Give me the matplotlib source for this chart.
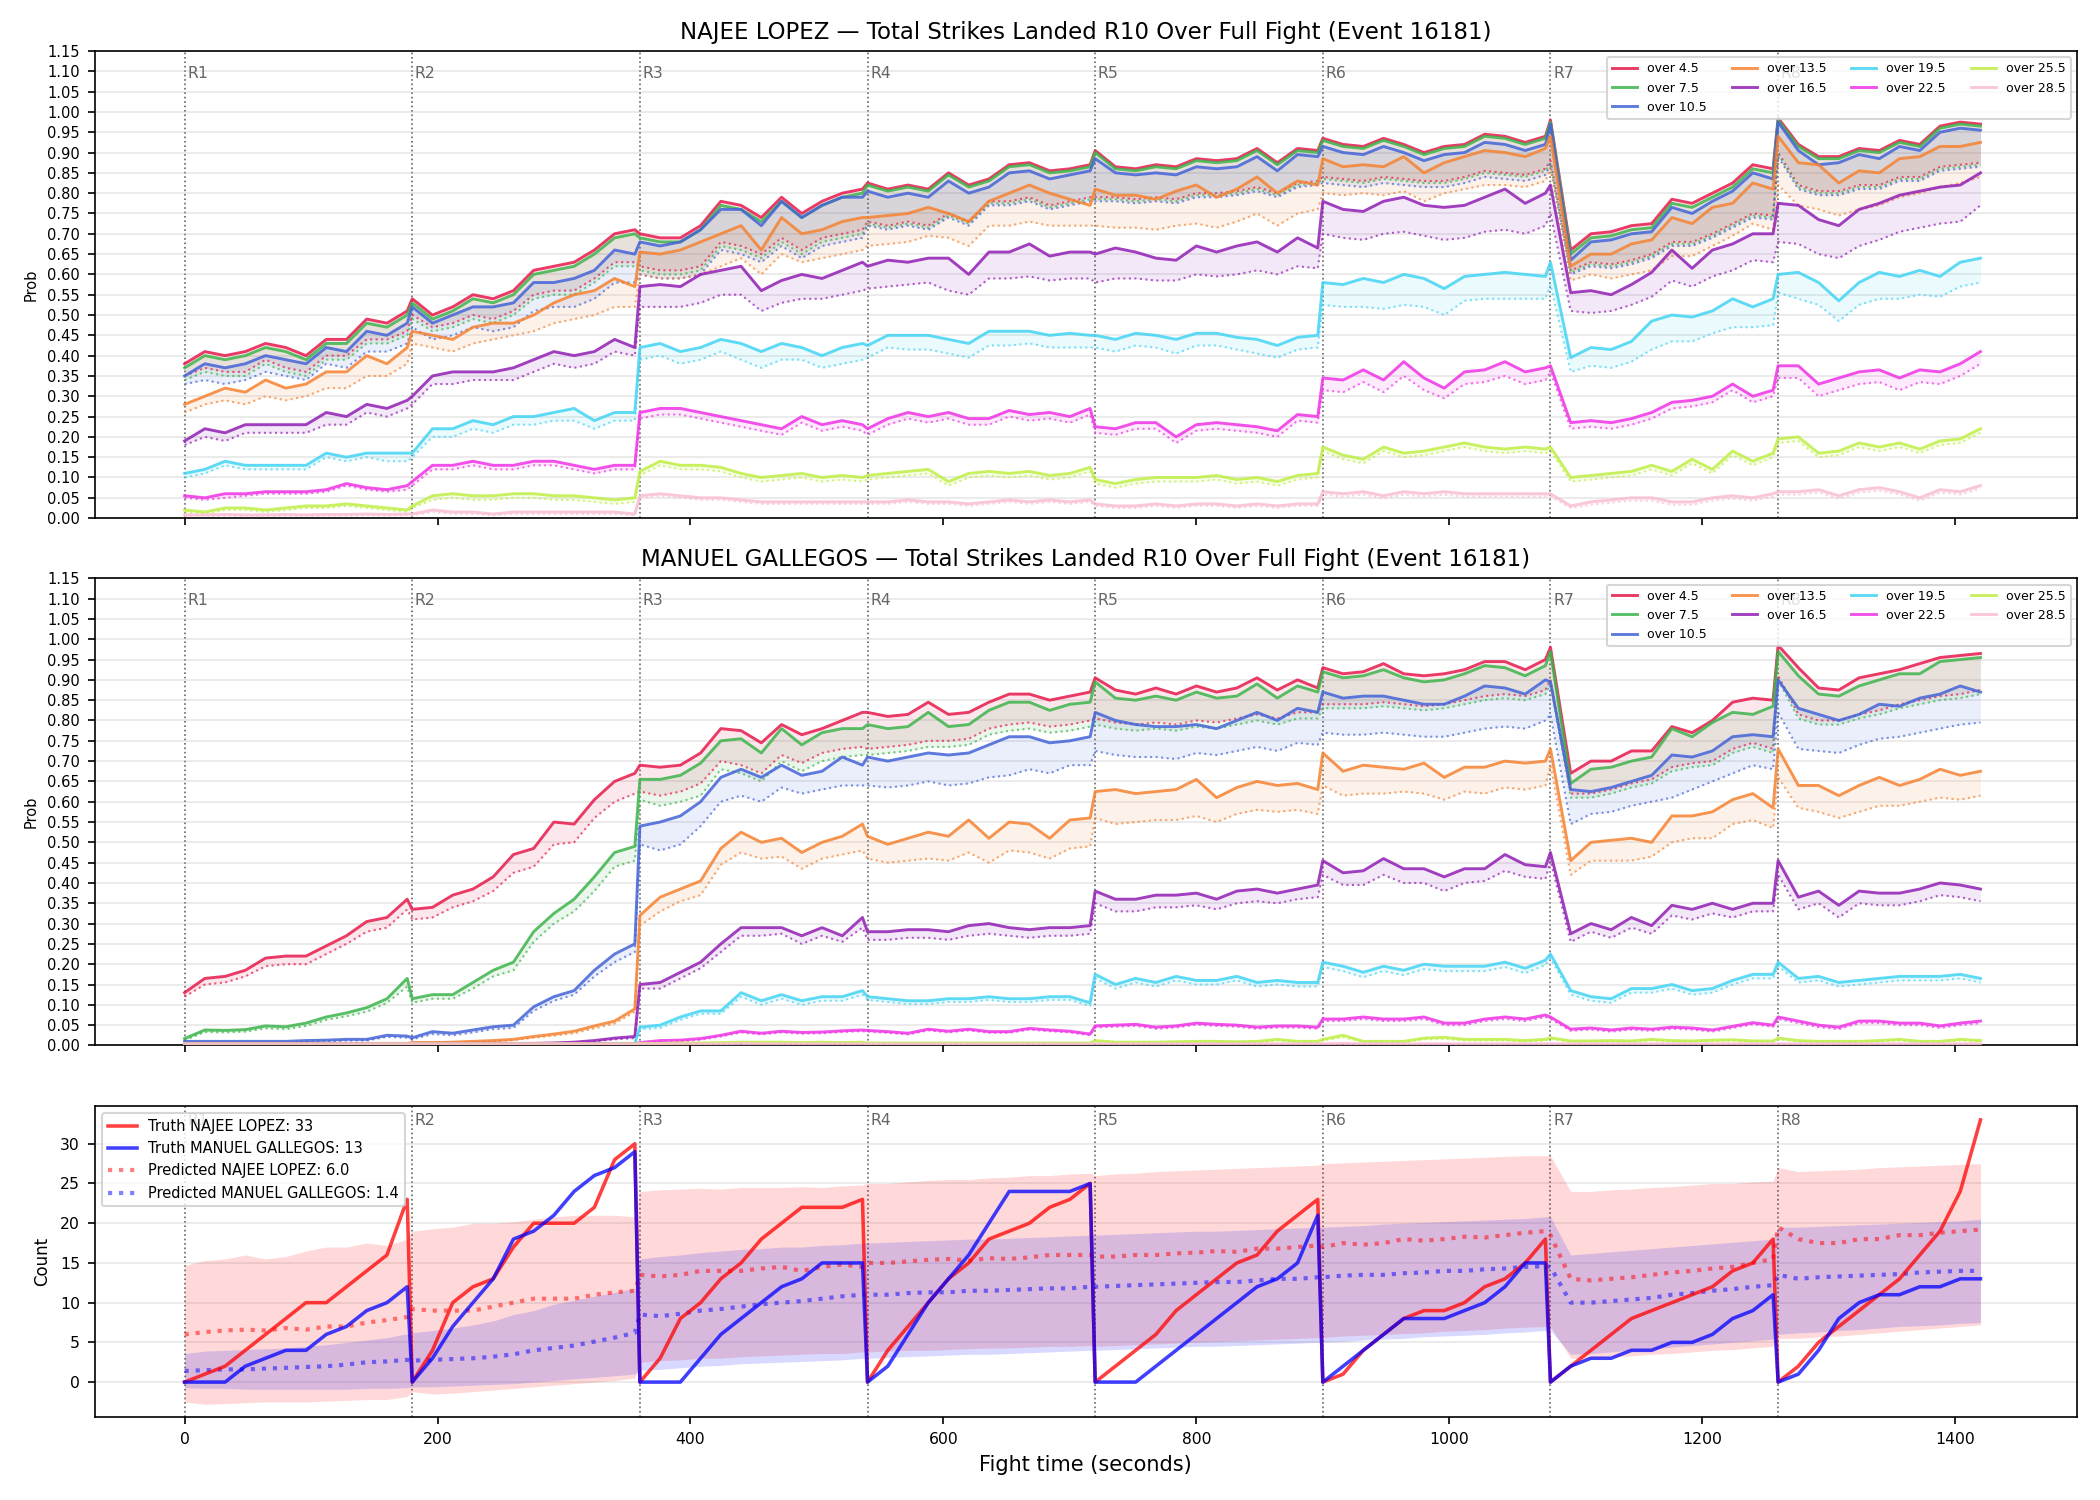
import numpy as np
import matplotlib
matplotlib.use("Agg")
import matplotlib.pyplot as plt
from matplotlib.transforms import blended_transform_factory

# ---------------- time grid (seconds) ----------------
ROUND_STARTS = [0, 180, 360, 540, 720, 900, 1080, 1260]
SAMPLE_OFFSETS = [0, 16, 32, 48, 64, 80, 96, 112, 128, 144, 160, 176]
LAST_ROUND_OFFSETS = [0, 16, 32, 48, 64, 80, 96, 112, 128, 144, 160]

THRESHOLD_LABELS = ["over 4.5", "over 7.5", "over 10.5", "over 13.5", "over 16.5",
                    "over 19.5", "over 22.5", "over 25.5", "over 28.5"]
LINE_COLORS = ["#e6194B", "#3cb44b", "#4363d8", "#f58231", "#911eb4",
               "#42d4f4", "#f032e6", "#bfef45", "#fabed4"]

FIGHTER_A = "NAJEE LOPEZ"
FIGHTER_B = "MANUEL GALLEGOS"

# ================= NAJEE LOPEZ probabilities (percent), one row per round =================
lopez_o45 = [
    [38, 41, 40, 41, 43, 42, 40, 44, 44, 49, 48, 51],
    [54, 50, 52, 55, 54, 56, 61, 62, 63, 66, 70, 71],
    [70, 69, 69, 72, 78, 77, 74, 79, 75, 78, 80, 81],
    [82.5, 81, 82, 81, 85, 82, 83.5, 87, 87.5, 85.5, 86, 87],
    [90.5, 86.5, 86, 87, 86.5, 88.5, 88, 88.5, 91, 87.5, 91, 90.5],
    [93.5, 92, 91.5, 93.5, 92, 90, 91.5, 92, 94.5, 94, 92.5, 94],
    [98, 66, 70, 70.5, 72, 72.5, 78.5, 77.5, 80, 82.5, 87, 86],
    [98.5, 92, 89, 89, 91, 90.5, 93, 92, 96.5, 97.5, 97],
]
lopez_o45_lo = [
    [35, 37, 36, 36, 39, 37, 36, 40, 40, 44, 44, 46],
    [50, 47, 48, 50, 49, 51, 55, 56, 56, 59, 63, 63],
    [62, 61, 61, 62, 68, 67, 65, 69, 66, 69, 70, 71],
    [73, 72, 73, 72, 75, 73, 78, 78, 79, 77, 78, 79],
    [79, 79, 78.5, 79, 78.5, 80, 80, 80.5, 81.5, 80, 82.5, 83],
    [84, 83.5, 83, 84, 83.5, 83, 83, 84, 85.5, 85, 84.5, 86],
    [88, 61, 63, 62.5, 63.5, 65, 68, 68, 70, 72.5, 75, 74.5],
    [90, 82, 80.5, 80.5, 82, 82, 84, 84, 86.5, 87, 87.5],
]
lopez_o75 = [
    [37, 40, 39, 40, 42, 41, 39, 43, 43, 48, 47, 50],
    [53, 49, 51, 54, 53, 55, 60, 61, 62, 65, 69, 70],
    [69, 68, 68, 71, 77, 76, 73, 78, 74, 77, 79, 80],
    [82, 80.5, 81.5, 80.5, 84.5, 81.5, 83, 86.5, 87, 85, 85.5, 86.5],
    [90, 86, 85.5, 86.5, 86, 88, 87.5, 88, 90.5, 87, 90.5, 90],
    [93, 91.5, 91, 93, 91.5, 89.5, 91, 91.5, 94, 93.5, 92, 93.5],
    [97.5, 65, 69, 69.5, 71, 71.5, 77.5, 76.5, 79, 81.5, 86, 85],
    [98, 91.5, 88.5, 88.5, 90.5, 90, 92.5, 91.5, 96, 97, 96.5],
]
lopez_o75_lo = [
    [34, 36, 35, 35, 38, 36, 35, 39, 39, 43, 43, 45],
    [49, 46, 47, 49, 48, 50, 54, 55, 55, 58, 62, 62],
    [61, 60, 60, 61, 67, 66, 64, 68, 65, 68, 69, 70],
    [72.5, 71.5, 72.5, 71.5, 74.5, 72.5, 77.5, 77.5, 78.5, 76.5, 77.5, 78.5],
    [78.5, 78.5, 78, 78.5, 78, 79.5, 79.5, 80, 81, 79.5, 82, 82.5],
    [83.5, 83, 82.5, 83.5, 83, 82.5, 82.5, 83.5, 85, 84.5, 84, 85.5],
    [87.5, 60.5, 62.5, 62, 63, 64.5, 67.5, 67.5, 69.5, 72, 74.5, 74],
    [89.5, 81.5, 80, 80, 81.5, 81.5, 83.5, 83.5, 86, 86.5, 87],
]
lopez_o105 = [
    [35, 38, 37, 38, 40, 39, 38, 42, 41, 46, 45, 48],
    [52, 48, 50, 52, 52, 53, 58, 58, 59, 61, 66, 65],
    [68, 67, 68, 71, 76, 76, 72, 78, 74, 77, 79, 79],
    [80.5, 79, 80, 79, 83, 80, 81.5, 85, 85.5, 83.5, 84.5, 85.5],
    [88.5, 85, 84.5, 85, 84.5, 86.5, 86, 86.5, 89, 85.5, 89.5, 89],
    [91.5, 90, 89.5, 91.5, 90, 88, 89.5, 90, 92.5, 92, 90.5, 92],
    [97, 63.5, 68, 68.5, 70, 70.5, 76.5, 75, 78, 80.5, 85, 83.5],
    [97.5, 90.5, 87, 87.5, 89.5, 88.5, 91.5, 90.5, 95, 96, 95.5],
]
lopez_o105_lo = [
    [33, 34, 33, 34, 36, 35, 34, 38, 37, 41, 41, 43],
    [47, 44, 45, 47, 46, 47, 51, 52, 52, 54, 58, 58],
    [60, 59, 59, 60, 66, 65, 63, 67, 64, 67, 68, 69],
    [72, 71, 72, 71, 74, 72, 77, 77, 78, 76, 77, 78],
    [78, 78, 77.5, 78, 77.5, 79, 79, 79.5, 80.5, 79, 81.5, 82],
    [82.5, 82, 81.5, 82.5, 82, 81.5, 81.5, 82.5, 84, 83.5, 83, 84.5],
    [87, 60, 62, 61.5, 62.5, 64, 67, 67, 69, 71.5, 74, 73.5],
    [89, 81, 79.5, 79.5, 81, 81, 83, 83, 85.5, 86, 86.5],
]
lopez_o135 = [
    [28, 30, 32, 31, 34, 32, 33, 36, 36, 40, 38, 42],
    [46, 45, 44, 47, 48, 48, 50, 53, 55, 56, 59, 57],
    [65.5, 65, 66, 68, 70, 72, 66, 74, 70, 71, 73, 74],
    [74, 74.5, 75, 76.5, 75, 73, 78, 80, 82, 80, 78.5, 77],
    [81, 79.5, 79.5, 78.5, 80.5, 82, 79, 81, 84, 80, 83, 82],
    [88.5, 86.5, 87, 86.5, 89, 85, 87.5, 89, 90.5, 90, 89, 91],
    [94, 62, 65, 65, 67.5, 68.5, 74, 72.5, 76.5, 77.5, 82.5, 81],
    [94, 87.5, 87, 82.5, 85.5, 85, 88.5, 89, 91.5, 91.5, 92.5],
]
lopez_o135_lo = [
    [26, 28, 29, 28, 30, 29, 30, 32, 32, 35, 35, 38],
    [43, 42, 41, 43, 44, 45, 46, 48, 49, 50, 52, 52],
    [60, 59, 59, 60, 62, 64, 60, 65, 63, 64, 65, 66],
    [67, 67.5, 68, 69.5, 69, 67, 72, 72, 73, 72, 72, 72],
    [72, 71.5, 71.5, 71, 72, 72.5, 71.5, 73, 75, 72, 75, 76],
    [80, 79.5, 80, 79.5, 80.5, 78, 80, 81, 82, 82, 81.5, 83],
    [86, 58.5, 60, 59, 60, 61, 64.5, 64.5, 67, 69.5, 72.5, 71],
    [82, 77, 76, 74.5, 76, 77, 79, 80, 81.5, 82.5, 84],
]
lopez_o165 = [
    [19, 22, 21, 23, 23, 23, 23, 26, 25, 28, 27, 29],
    [30, 35, 36, 36, 36, 37, 39, 41, 40, 41, 44, 42],
    [57, 57.5, 57, 60, 61, 62, 56, 58.5, 60, 59, 61, 63],
    [62, 63.5, 63, 64, 64, 60, 65.5, 65.5, 67.5, 64.5, 65.5, 65.5],
    [65, 66.5, 65.5, 64, 63.5, 67, 65.5, 67, 68, 65.5, 69, 66.5],
    [78, 76, 75.5, 78, 79, 77, 76.5, 77, 79, 81, 77.5, 80],
    [82, 55.5, 56, 55, 57.5, 60.5, 66, 61.5, 66, 67.5, 70, 70],
    [77.5, 77, 73.5, 72, 76, 77.5, 79.5, 80.5, 81.5, 82, 85],
]
lopez_o165_lo = [
    [18, 20, 19, 21, 21, 21, 21, 23, 23, 26, 25, 27],
    [28, 33, 33, 34, 34, 34, 36, 38, 37, 38, 41, 40],
    [52, 52, 52, 53, 55, 55, 51, 53, 54, 54, 55, 56],
    [56.5, 57, 57.5, 58, 56, 55, 59, 59, 59.5, 58.5, 59, 59],
    [58, 59, 59, 58.5, 58.5, 60, 59.5, 60, 61, 60, 62, 61.5],
    [70, 69, 68.5, 70, 70.5, 69.5, 68.5, 69, 70.5, 71, 70, 72],
    [75, 51, 50.5, 51, 52.5, 54.5, 58.5, 57, 59.5, 61, 63.5, 63],
    [68, 67.5, 65, 64, 67, 68.5, 70.5, 71.5, 72.5, 73, 77],
]
lopez_o195 = [
    [11, 12, 14, 13, 13, 13, 13, 16, 15, 16, 16, 16],
    [16, 22, 22, 24, 23, 25, 25, 26, 27, 24, 26, 26],
    [42, 43, 41, 42, 44, 43, 41, 43, 42, 40, 42, 43],
    [42.5, 45, 45, 45, 44, 43, 46, 46, 46, 45, 45.5, 45],
    [45, 44, 45.5, 45, 44, 45.5, 45.5, 44.5, 44, 42.5, 44.5, 45],
    [58, 57.5, 59, 58, 60, 59, 56.5, 59.5, 60, 60.5, 60, 59.5],
    [63, 39.5, 42, 41.5, 43.5, 48.5, 50, 49.5, 51, 54, 52, 54],
    [60, 60.5, 58, 53.5, 58, 60.5, 59.5, 61, 59.5, 63, 64],
]
lopez_o195_lo = [
    [10, 11, 13, 12, 12, 12, 12, 15, 14, 15, 14, 14],
    [15, 20, 20, 22, 21, 23, 23, 24, 24, 22, 24, 24],
    [39, 40, 38, 39, 41, 39, 37, 39, 39, 37, 38, 39],
    [39.5, 42, 41.5, 41.5, 40.5, 39.5, 42.5, 42.5, 43, 42, 42, 42],
    [42, 41, 42.5, 42, 40.5, 42.5, 42.5, 41.5, 40.5, 39.5, 41.5, 42],
    [52.5, 52, 52, 51.5, 52.5, 52, 50, 53.5, 54, 54, 54, 54],
    [57.5, 36, 37.5, 37, 38.5, 41.5, 43.5, 43.5, 45.5, 47, 47, 47.5],
    [55.5, 54, 52.5, 48.5, 52.5, 54, 54, 55, 54.5, 57, 58],
]
lopez_o225 = [
    [5.5, 5, 6, 6, 6.5, 6.5, 6.5, 7, 8.5, 7.5, 7, 8],
    [9, 13, 13, 14, 13, 13, 14, 14, 13, 12, 13, 13],
    [26, 27, 27, 26, 25, 24, 23, 22, 25, 23, 24, 23],
    [22, 24.5, 26, 25, 26, 24.5, 24.5, 26.5, 25.5, 26, 25, 27],
    [22.5, 22, 23.5, 23.5, 20, 23, 23.5, 23, 22.5, 21.5, 25.5, 25],
    [34.5, 34, 36.5, 34, 38.5, 34.5, 32, 36, 36.5, 38.5, 36, 37],
    [37.5, 23.5, 24, 23.5, 24.5, 26, 28.5, 29, 30, 33, 30, 31.5],
    [37.5, 37.5, 33, 34.5, 36, 36.5, 34.5, 36.5, 36, 38, 41],
]
lopez_o225_lo = [
    [5, 4.5, 5, 5.5, 6, 6, 6, 6.5, 8, 7, 6.5, 7],
    [8, 12, 12, 13, 12, 12, 13, 13, 12, 11, 12, 12],
    [24.5, 25.5, 25.5, 24.5, 23.5, 22.5, 21.5, 20.5, 23.5, 21.5, 22.5, 21.5],
    [20.5, 23, 24.5, 23.5, 24.5, 23, 23, 25, 24, 24.5, 23.5, 25.5],
    [21, 20.5, 22, 22, 18.5, 21.5, 22, 21.5, 21, 20, 24, 23.5],
    [31.5, 31, 33.5, 31, 35, 31.5, 29.5, 33, 33.5, 35, 33, 34],
    [36, 22, 22.5, 22, 23, 24.5, 27, 27.5, 28.5, 31.5, 28.5, 30],
    [34.5, 34.5, 30, 31.5, 33, 33.5, 31.5, 33.5, 33, 35, 38],
]
lopez_o255 = [
    [2, 1.5, 2.5, 2.5, 2, 2.5, 3, 3, 3.5, 3, 2.5, 2],
    [3, 5.5, 6, 5.5, 5.5, 6, 6, 5.5, 5.5, 5, 4.5, 5],
    [11.5, 14, 13, 13, 12.5, 11, 10, 10.5, 11, 10, 10.5, 10],
    [10.5, 11, 11.5, 12, 9, 11, 11.5, 11, 11.5, 10.5, 11, 12.5],
    [9.5, 8.5, 9.5, 10, 10, 10, 10.5, 9.5, 10, 9, 10.5, 11],
    [17.5, 15.5, 14.5, 17.5, 16, 16.5, 17.5, 18.5, 17.5, 17, 17.5, 17],
    [17.5, 10, 10.5, 11, 11.5, 13, 11.5, 14.5, 12, 16.5, 14, 16],
    [19.5, 20, 16, 16.5, 18.5, 17.5, 18.5, 17, 19, 19.5, 22],
]
lopez_o255_lo = [
    [1.5, 1, 2, 2, 1.5, 2, 2.5, 2.5, 3, 2.5, 2, 1.5],
    [2.5, 4.5, 5, 4.5, 4.5, 5, 5, 4.5, 4.5, 4, 3.5, 4],
    [10.5, 13, 12, 12, 11.5, 10, 9, 9.5, 10, 9, 9.5, 9],
    [9.5, 10, 10.5, 11, 8, 10, 10.5, 10, 10.5, 9.5, 10, 11.5],
    [8.5, 7.5, 8.5, 9, 9, 9, 9.5, 8.5, 9, 8, 9.5, 10],
    [16.5, 14.5, 13.5, 16.5, 15, 15.5, 16.5, 17.5, 16.5, 16, 16.5, 16],
    [16.5, 9, 9.5, 10, 10.5, 12, 10.5, 13.5, 11, 15.5, 13, 15],
    [18.5, 19, 15, 15.5, 17.5, 16.5, 17.5, 16, 18, 18.5, 21],
]
lopez_o285 = [
    [0.8, 0.8, 0.9, 0.8, 0.8, 0.9, 0.8, 0.9, 0.9, 1, 0.9, 1],
    [1, 2, 1.5, 1.5, 1, 1.5, 1.5, 1.5, 1.5, 1.5, 1.5, 1],
    [5.5, 6, 5.5, 5, 5, 4.5, 4, 4, 4, 4, 4, 4],
    [4, 4, 4.5, 4, 4, 3.5, 4, 4.5, 4, 4.5, 4, 4.5],
    [3.5, 3, 3, 3.5, 3, 3.5, 3.5, 3, 3.5, 3, 3.5, 3.5],
    [6.5, 6, 6.5, 5.5, 6.5, 6, 6.5, 6, 6, 6, 6, 6],
    [6, 3, 4, 4.5, 5, 5, 4, 4, 5, 5.5, 5, 6],
    [6.5, 6.5, 7, 5.5, 7, 7.5, 6.5, 5, 7, 6.5, 8],
]
lopez_o285_lo = [
    [0.5, 0.5, 0.6, 0.5, 0.5, 0.6, 0.5, 0.6, 0.6, 0.7, 0.6, 0.7],
    [0.7, 1.5, 1, 1, 0.7, 1, 1, 1, 1, 1, 1, 0.7],
    [5, 5.5, 5, 4.5, 4.5, 4, 3.5, 3.5, 3.5, 3.5, 3.5, 3.5],
    [3.5, 3.5, 4, 3.5, 3.5, 3, 3.5, 4, 3.5, 4, 3.5, 4],
    [3, 2.5, 2.5, 3, 2.5, 3, 3, 2.5, 3, 2.5, 3, 3],
    [5.8, 5.3, 5.8, 4.8, 5.8, 5.3, 5.8, 5.3, 5.3, 5.3, 5.3, 5.3],
    [5.3, 2.5, 3.3, 3.8, 4.3, 4.3, 3.3, 3.3, 4.3, 4.8, 4.3, 5.3],
    [5.8, 5.8, 6.3, 4.8, 6.3, 6.8, 5.8, 4.3, 6.3, 5.8, 7.3],
]

# ================= MANUEL GALLEGOS probabilities (percent) =================
gal_o45 = [
    [13, 16.5, 17, 18.5, 21.5, 22, 22, 24.5, 27, 30.5, 31.5, 36],
    [33.5, 34, 37, 38.5, 41.5, 47, 48.5, 55, 54.5, 60.5, 65, 67],
    [69, 68.5, 69, 72, 78, 77.5, 74.5, 79, 76.5, 78, 80, 82],
    [82, 81, 81.5, 84.5, 81.5, 82, 84.5, 86.5, 86.5, 85, 86, 87],
    [90.5, 87.5, 86.5, 88, 86.5, 88.5, 87, 88, 90.5, 87.5, 90, 88],
    [93, 91.5, 92, 94, 91.5, 91, 91.5, 92.5, 94.5, 94.5, 92.5, 95],
    [98, 67, 70, 70, 72.5, 72.5, 78.5, 77, 80, 84.5, 85.5, 85],
    [98.5, 93, 88, 87.5, 90.5, 91.5, 92.5, 94, 95.5, 96, 96.5],
]
gal_o45_lo = [
    [12, 15, 15.5, 17, 19.5, 20, 20, 22.5, 25, 28, 29, 33.5],
    [31, 31.5, 34, 35.5, 38, 42.5, 44, 49.5, 50, 56, 60, 62],
    [62.5, 61.5, 62.5, 64.5, 70, 69, 67, 71.5, 69.5, 72, 73, 73.5],
    [73, 73.5, 74, 75, 75, 75.5, 78, 79, 79.5, 78.5, 79, 80],
    [80.5, 79.5, 79, 79.5, 79, 80, 79.5, 80.5, 81.5, 80.5, 82, 82],
    [84, 84, 84, 84.5, 84, 83.5, 84, 85, 86, 86.5, 86, 87.5],
    [90, 62, 62, 63, 64.5, 65.5, 68.5, 69.5, 70, 73, 74.5, 73],
    [91, 81.5, 80, 80, 81.5, 82.5, 84, 85, 86, 86.5, 87.5],
]
gal_o75 = [
    [1.7, 3.8, 3.7, 3.9, 4.8, 4.6, 5.5, 7, 8, 9.3, 11.5, 16.5],
    [11.5, 12.5, 12.5, 15.5, 18.5, 20.5, 28, 32.5, 36, 41.5, 47.5, 49],
    [65.5, 65.5, 66.5, 69.5, 75, 75.5, 72, 78, 74, 77, 78, 78],
    [79, 78, 78.5, 82, 78.5, 79, 82.5, 84.5, 84.5, 82.5, 84, 84.5],
    [89.5, 85.5, 85, 86, 85, 87, 85.5, 86, 89, 85.5, 88.5, 87],
    [92, 90.5, 91, 92.5, 90.5, 89.5, 90, 91.5, 93.5, 93, 91, 93.5],
    [97, 64.5, 68, 68.5, 70, 71, 78, 76, 79.5, 82, 81.5, 83.5],
    [97, 91, 86.5, 86, 88.5, 90, 91.5, 91.5, 94.5, 95, 95.5],
]
gal_o75_lo = [
    [1.3, 3.3, 3.2, 3.4, 4.2, 4, 4.8, 6.3, 7.2, 8.3, 10.5, 14.5],
    [10.5, 11.5, 11.5, 14, 17, 18.5, 25.5, 30, 33, 38, 44, 45.5],
    [60.5, 59, 60, 61.5, 68, 67, 65, 70, 67.5, 70, 71, 71.5],
    [71.5, 72, 72.5, 73.5, 73.5, 74, 76.5, 77.5, 78, 77, 77.5, 78.5],
    [79, 78, 77.5, 78, 77.5, 78.5, 78, 79, 80, 79, 80.5, 80.5],
    [83, 83, 83, 83.5, 83, 82.5, 83, 84, 85, 85.5, 85, 86.5],
    [89, 61, 61, 62, 63.5, 64.5, 67.5, 68.5, 69, 72, 73.5, 72],
    [90, 80.5, 79, 79, 80.5, 81.5, 83, 84, 85, 85.5, 86.5],
]
gal_o105 = [
    [1, 1, 1, 1, 1, 1, 1.2, 1.3, 1.5, 1.5, 2.5, 2.3],
    [1.9, 3.4, 3, 3.8, 4.6, 5, 9.5, 12, 13.5, 18.5, 22.5, 25],
    [54, 55, 56.5, 60, 66, 68, 66, 69, 66.5, 67.5, 71, 69],
    [71, 70, 71, 72, 71.5, 72, 74, 76, 76, 74.5, 75, 76],
    [82, 80, 79, 78.5, 78.5, 79, 78, 80, 82, 80, 83, 82],
    [87, 85.5, 86, 86, 85, 84, 84, 86, 88.5, 88, 86.5, 90],
    [89.5, 63, 62.5, 63.5, 65, 66.5, 71.5, 71, 72.5, 76, 76.5, 76],
    [90, 83, 81.5, 80, 81.5, 84, 83.5, 85.5, 86.5, 88.5, 87],
]
gal_o105_lo = [
    [0.7, 0.7, 0.7, 0.7, 0.7, 0.7, 0.9, 1, 1.2, 1.2, 2.1, 1.9],
    [1.5, 2.8, 2.5, 3.2, 4, 4.3, 8.5, 11, 12.5, 17, 20.5, 23],
    [49.5, 48, 49.5, 54, 60, 61.5, 60, 63.5, 62, 63, 64, 64],
    [64, 63.5, 64, 65, 64, 64.5, 66, 66.5, 68, 67, 69, 69],
    [72.5, 71.5, 71, 71, 70.5, 72, 71.5, 72.5, 73.5, 72.5, 74.5, 74],
    [77, 76.5, 76.5, 77, 76.5, 76, 76, 77, 78, 78.5, 78, 80],
    [81.5, 54.5, 57, 57.5, 59, 60, 61, 63, 65, 67, 69, 68],
    [82, 73, 72.5, 72, 74, 75.5, 76, 77, 78, 79, 79.5],
]
gal_o135 = [
    [0.5, 0.5, 0.5, 0.5, 0.5, 0.5, 0.5, 0.5, 0.5, 0.5, 0.5, 0.5],
    [0.7, 0.7, 0.8, 1, 1.2, 1.5, 2.2, 2.8, 3.5, 4.8, 6, 9],
    [32, 36.5, 38.5, 40.5, 48.5, 52.5, 50, 51, 47.5, 50, 51.5, 54.5],
    [51.5, 49.5, 51, 52.5, 51.5, 55.5, 51, 55, 54.5, 51, 55.5, 56],
    [62.5, 63, 62, 62.5, 63, 65.5, 61, 63.5, 65, 64, 64.5, 63],
    [72, 67.5, 69, 68.5, 68, 69.5, 66, 68.5, 68.5, 70, 69.5, 70],
    [73, 45.5, 50, 50.5, 51, 50, 56.5, 56.5, 57.5, 60.5, 62, 58.5],
    [73, 64, 64, 61.5, 64, 66, 64, 65.5, 68, 66.5, 67.5],
]
gal_o135_lo = [
    [0.3, 0.3, 0.3, 0.3, 0.3, 0.3, 0.3, 0.3, 0.3, 0.3, 0.3, 0.3],
    [0.5, 0.5, 0.6, 0.8, 1, 1.3, 1.9, 2.4, 3, 4.2, 5.4, 8.3],
    [29.5, 33, 35.5, 37, 44.5, 47.5, 46, 46.5, 43.5, 46, 47, 48],
    [46, 45, 45.5, 46, 45.5, 47.5, 45, 48, 47.5, 46, 48.5, 49],
    [56, 54.5, 55, 55.5, 55.5, 56.5, 55, 57, 58, 57.5, 58, 57],
    [64, 61.5, 62, 62, 62.5, 62, 60.5, 62.5, 62, 63.5, 63, 64],
    [69, 42, 45.5, 45.5, 45.5, 46.5, 50, 51, 51, 54.5, 55.5, 53.5],
    [66, 58.5, 57.5, 56, 57.5, 59, 59, 60, 61, 60.5, 61.5],
]
gal_o165 = [
    [0.4, 0.4, 0.4, 0.4, 0.4, 0.4, 0.4, 0.4, 0.4, 0.4, 0.4, 0.4],
    [0.5, 0.5, 0.5, 0.5, 0.5, 0.5, 0.5, 0.6, 0.8, 1.2, 1.8, 2.2],
    [15, 15.5, 18, 20.5, 25, 29, 29, 29, 27, 29, 27, 31.5],
    [28, 28, 28.5, 28.5, 28, 29.5, 30, 29, 28.5, 29, 29, 29.5],
    [38, 36, 36, 37, 37, 37.5, 36, 38, 38.5, 37.5, 38.5, 39.5],
    [45.5, 42.5, 43, 46, 43.5, 43.5, 41.5, 43.5, 43.5, 47, 44.5, 44],
    [47.5, 27.5, 30, 28.5, 31.5, 29.5, 34.5, 33.5, 35, 33.5, 35, 35],
    [45.5, 36.5, 38, 34.5, 38, 37.5, 37.5, 38.5, 40, 39.5, 38.5],
]
gal_o165_lo = [
    [0.3, 0.3, 0.3, 0.3, 0.3, 0.3, 0.3, 0.3, 0.3, 0.3, 0.3, 0.3],
    [0.4, 0.4, 0.4, 0.4, 0.4, 0.4, 0.4, 0.5, 0.6, 1, 1.5, 1.8],
    [14, 14, 16.5, 19, 23, 27, 27, 27.5, 25, 27, 25.5, 29],
    [26, 26, 26.5, 26.5, 26, 27, 27.5, 27, 26.5, 27, 27, 27.5],
    [35, 33, 33, 34, 34, 34.5, 33.5, 35, 35.5, 35, 36, 36.5],
    [42, 39.5, 39.5, 42, 40, 40, 38, 40, 40.5, 43, 41.5, 41],
    [45.5, 25.5, 28, 26.5, 29, 27.5, 32, 31, 32.5, 31.5, 33, 33],
    [42, 33.5, 35, 31.5, 35, 34.5, 34.5, 35.5, 37, 36.5, 35.5],
]
gal_o195 = [
    [0.4, 0.4, 0.4, 0.4, 0.4, 0.4, 0.4, 0.4, 0.4, 0.4, 0.4, 0.4],
    [0.4, 0.4, 0.4, 0.4, 0.4, 0.4, 0.4, 0.4, 0.4, 0.5, 0.5, 0.5],
    [4.5, 5, 7, 8.5, 8.5, 13, 11, 12.5, 11, 12, 12, 13.5],
    [12, 11.5, 11, 11, 11.5, 11.5, 12, 11.5, 11.5, 12, 12, 10.5],
    [17.5, 15, 16.5, 15.5, 17, 16, 16, 17, 15.5, 16, 15.5, 15.5],
    [20.5, 19.5, 18, 19.5, 18.5, 20, 19.5, 19.5, 19.5, 20.5, 19, 21],
    [22.5, 13.5, 12, 11.5, 14, 14, 15, 13.5, 14, 16, 17.5, 17.5],
    [20.5, 16.5, 17, 15.5, 16, 16.5, 17, 17, 17, 17.5, 16.5],
]
gal_o195_lo = [
    [0.3, 0.3, 0.3, 0.3, 0.3, 0.3, 0.3, 0.3, 0.3, 0.3, 0.3, 0.3],
    [0.3, 0.3, 0.3, 0.3, 0.3, 0.3, 0.3, 0.3, 0.3, 0.4, 0.4, 0.4],
    [4, 4.3, 6.3, 7.8, 7.8, 12, 10, 11.5, 10, 11, 11, 12.5],
    [11.2, 10.7, 10.2, 10.2, 10.7, 10.7, 11.2, 10.7, 10.7, 11.2, 11.2, 9.7],
    [16.5, 14, 15.5, 14.5, 16, 15, 15, 16, 14.5, 15, 14.5, 14.5],
    [19.3, 18.3, 16.8, 18.3, 17.3, 18.8, 18.3, 18.3, 18.3, 19.3, 17.8, 19.8],
    [21.5, 12.5, 11, 10.5, 13, 13, 14, 12.5, 13, 15, 16.5, 16.5],
    [19.5, 15.5, 16, 14.5, 15, 15.5, 16, 16, 16, 16.5, 15.5],
]
gal_o225 = [
    [0.4, 0.4, 0.4, 0.4, 0.4, 0.4, 0.4, 0.4, 0.4, 0.4, 0.4, 0.4],
    [0.4, 0.4, 0.4, 0.4, 0.4, 0.4, 0.4, 0.4, 0.4, 0.4, 0.4, 0.4],
    [0.7, 1.2, 1.3, 1.7, 2.5, 3.5, 3, 3.5, 3.2, 3.3, 3.6, 3.8],
    [3.7, 3.4, 3, 4, 3.5, 4, 3.4, 3.4, 4.2, 3.8, 3.5, 2.8],
    [4.8, 5, 5.2, 4.5, 4.8, 5.5, 5.2, 5, 4.5, 4.8, 4.8, 4.5],
    [6.5, 6.5, 7, 6.5, 6.5, 7, 5.5, 5.5, 6.5, 7, 6.5, 7.5],
    [7, 4, 4.3, 3.8, 4.3, 4, 4.5, 4.3, 3.8, 4.7, 5.6, 5],
    [7, 6, 5, 4.5, 6, 6, 5.5, 5.5, 4.8, 5.5, 6],
]
gal_o225_lo = [
    [0.3, 0.3, 0.3, 0.3, 0.3, 0.3, 0.3, 0.3, 0.3, 0.3, 0.3, 0.3],
    [0.3, 0.3, 0.3, 0.3, 0.3, 0.3, 0.3, 0.3, 0.3, 0.3, 0.3, 0.3],
    [0.5, 0.9, 1, 1.4, 2.2, 3.2, 2.7, 3.2, 2.9, 3, 3.3, 3.5],
    [3.4, 3.1, 2.7, 3.7, 3.2, 3.7, 3.1, 3.1, 3.9, 3.5, 3.2, 2.5],
    [4.4, 4.6, 4.8, 4.1, 4.4, 5.1, 4.8, 4.6, 4.1, 4.4, 4.4, 4.1],
    [6, 6, 6.5, 6, 6, 6.5, 5, 5, 6, 6.5, 6, 7],
    [6.5, 3.6, 3.9, 3.4, 3.9, 3.6, 4.1, 3.9, 3.4, 4.3, 5.2, 4.6],
    [6.5, 5.5, 4.5, 4, 5.5, 5.5, 5, 5, 4.3, 5, 5.5],
]
gal_o255 = [
    [0.4, 0.4, 0.4, 0.4, 0.4, 0.4, 0.4, 0.4, 0.4, 0.4, 0.4, 0.4],
    [0.4, 0.4, 0.4, 0.4, 0.4, 0.4, 0.4, 0.4, 0.4, 0.4, 0.4, 0.4],
    [0.5, 0.5, 0.6, 0.6, 0.7, 0.8, 0.8, 0.8, 0.7, 0.8, 0.7, 0.8],
    [0.6, 0.6, 0.6, 0.6, 0.6, 0.6, 0.6, 0.6, 0.6, 0.6, 0.6, 0.6],
    [1.2, 0.8, 0.8, 0.8, 0.9, 1, 1, 0.9, 1, 1.5, 1, 1],
    [1.5, 2.5, 1, 1, 1, 1.8, 2, 1.5, 1.5, 1.5, 1.2, 1.5],
    [1.9, 1.1, 1.1, 1.2, 1.1, 1.5, 1.2, 1.1, 1.3, 1.4, 1.1, 1.1],
    [1.8, 1.2, 1, 1, 1, 1.2, 1.5, 1, 1, 1.5, 1.2],
]
gal_o255_lo = [
    [0.3, 0.3, 0.3, 0.3, 0.3, 0.3, 0.3, 0.3, 0.3, 0.3, 0.3, 0.3],
    [0.3, 0.3, 0.3, 0.3, 0.3, 0.3, 0.3, 0.3, 0.3, 0.3, 0.3, 0.3],
    [0.4, 0.4, 0.5, 0.5, 0.5, 0.6, 0.6, 0.6, 0.5, 0.6, 0.5, 0.6],
    [0.4, 0.4, 0.4, 0.4, 0.4, 0.4, 0.4, 0.4, 0.4, 0.4, 0.4, 0.4],
    [1, 0.6, 0.6, 0.6, 0.7, 0.8, 0.8, 0.7, 0.8, 1.2, 0.8, 0.8],
    [1.2, 2, 0.8, 0.8, 0.8, 1.5, 1.6, 1.2, 1.2, 1.2, 1, 1.2],
    [1.6, 0.9, 0.9, 1, 0.9, 1.2, 1, 0.9, 1.1, 1.2, 0.9, 0.9],
    [1.5, 1, 0.8, 0.8, 0.8, 1, 1.2, 0.8, 0.8, 1.2, 1],
]
gal_o285 = [
    [0.4, 0.4, 0.4, 0.4, 0.4, 0.4, 0.4, 0.4, 0.4, 0.4, 0.4, 0.4],
    [0.4, 0.4, 0.4, 0.4, 0.4, 0.4, 0.4, 0.4, 0.4, 0.4, 0.4, 0.4],
    [0.4, 0.4, 0.4, 0.4, 0.4, 0.5, 0.4, 0.4, 0.4, 0.4, 0.4, 0.4],
    [0.4, 0.4, 0.4, 0.4, 0.4, 0.4, 0.4, 0.4, 0.4, 0.4, 0.4, 0.4],
    [0.4, 0.4, 0.4, 0.4, 0.4, 0.4, 0.4, 0.4, 0.4, 0.4, 0.4, 0.4],
    [0.4, 0.5, 0.4, 0.4, 0.4, 0.4, 0.4, 0.4, 0.4, 0.4, 0.4, 0.4],
    [0.4, 0.4, 0.4, 0.4, 0.4, 0.4, 0.4, 0.4, 0.4, 0.4, 0.4, 0.4],
    [0.4, 0.4, 0.4, 0.4, 0.4, 0.4, 0.4, 0.4, 0.4, 0.4, 0.4],
]
gal_o285_lo = [
    [0.3, 0.3, 0.3, 0.3, 0.3, 0.3, 0.3, 0.3, 0.3, 0.3, 0.3, 0.3],
    [0.3, 0.3, 0.3, 0.3, 0.3, 0.3, 0.3, 0.3, 0.3, 0.3, 0.3, 0.3],
    [0.3, 0.3, 0.3, 0.3, 0.3, 0.3, 0.3, 0.3, 0.3, 0.3, 0.3, 0.3],
    [0.3, 0.3, 0.3, 0.3, 0.3, 0.3, 0.3, 0.3, 0.3, 0.3, 0.3, 0.3],
    [0.3, 0.3, 0.3, 0.3, 0.3, 0.3, 0.3, 0.3, 0.3, 0.3, 0.3, 0.3],
    [0.3, 0.3, 0.3, 0.3, 0.3, 0.3, 0.3, 0.3, 0.3, 0.3, 0.3, 0.3],
    [0.3, 0.3, 0.3, 0.3, 0.3, 0.3, 0.3, 0.3, 0.3, 0.3, 0.3, 0.3],
    [0.3, 0.3, 0.3, 0.3, 0.3, 0.3, 0.3, 0.3, 0.3, 0.3, 0.3],
]

# ================= strike counts (bottom panel) =================
truth_lopez = [
    [0, 1, 2, 4, 6, 8, 10, 10, 12, 14, 16, 23],
    [0, 4, 10, 12, 13, 17, 20, 20, 20, 22, 28, 30],
    [0, 3, 8, 10, 13, 15, 18, 20, 22, 22, 22, 23],
    [0, 4, 7, 10, 13, 15, 18, 19, 20, 22, 23, 25],
    [0, 2, 4, 6, 9, 11, 13, 15, 16, 19, 21, 23],
    [0, 1, 4, 6, 8, 9, 9, 10, 12, 13, 15, 18],
    [0, 2, 4, 6, 8, 9, 10, 11, 12, 14, 15, 18],
    [0, 2, 5, 7, 9, 11, 13, 16, 19, 24, 33],
]
truth_gallegos = [
    [0, 0, 0, 2, 3, 4, 4, 6, 7, 9, 10, 12],
    [0, 3, 7, 10, 13, 18, 19, 21, 24, 26, 27, 29],
    [0, 0, 0, 3, 6, 8, 10, 12, 13, 15, 15, 15],
    [0, 2, 6, 10, 13, 16, 20, 24, 24, 24, 24, 25],
    [0, 0, 0, 2, 4, 6, 8, 10, 12, 13, 15, 21],
    [0, 2, 4, 6, 8, 8, 8, 9, 10, 12, 15, 15],
    [0, 2, 3, 3, 4, 4, 5, 5, 6, 8, 9, 11],
    [0, 1, 4, 8, 10, 11, 11, 12, 12, 13, 13],
]
pred_lopez = [
    [6, 6.3, 6.5, 6.6, 6.5, 6.8, 6.6, 7, 7, 7.5, 7.8, 8.2],
    [9.2, 9, 9, 9, 9.5, 10, 10.5, 10.5, 10.5, 11, 11.3, 11.5],
    [13.5, 13.3, 13.5, 14, 14, 14, 14.3, 14.5, 14, 14.5, 14.8, 14.5],
    [15, 15, 15.2, 15.4, 15.5, 15.3, 15.6, 15.5, 15.7, 16, 16, 16],
    [15.8, 15.8, 16, 16, 16.2, 16.3, 16.5, 16.4, 16.8, 16.8, 17, 17.2],
    [17, 17.5, 17.3, 17.5, 18, 17.8, 18, 18.3, 18.2, 18.5, 18.8, 19],
    [18.5, 13, 12.8, 13, 13.2, 13.5, 13.8, 14, 14.3, 14.5, 15, 15.5],
    [19.5, 18, 17.5, 17.5, 18, 18, 18.5, 18.5, 18.8, 19, 19.2],
]
pred_gallegos = [
    [1.4, 1.5, 1.6, 1.6, 1.7, 1.8, 1.9, 2, 2.2, 2.5, 2.6, 2.8],
    [2.7, 2.8, 2.9, 3, 3.2, 3.5, 4, 4.3, 4.6, 5.1, 5.6, 6.2],
    [8.5, 8.3, 8.6, 9, 9.2, 9.5, 9.8, 10, 10.2, 10.5, 10.8, 11],
    [11, 11, 11.2, 11.3, 11.3, 11.5, 11.5, 11.6, 11.7, 11.8, 11.8, 12],
    [12, 12.1, 12.2, 12.3, 12.4, 12.5, 12.6, 12.6, 12.8, 13, 13, 13.2],
    [13.2, 13.4, 13.5, 13.5, 13.7, 13.8, 14, 14, 14.2, 14.3, 14.5, 14.6],
    [14.5, 10, 10, 10.2, 10.4, 10.6, 11, 11.2, 11.5, 11.7, 12, 12.2],
    [13.5, 13, 13.2, 13.3, 13.4, 13.5, 13.6, 13.8, 13.9, 14, 14],
]
band_lopez_hi = [
    [14.7, 15.3, 15.5, 16, 15.5, 15.8, 16.5, 17, 17, 17.5, 17.2, 18],
    [19, 19.3, 19.5, 20, 20, 20.2, 20.5, 20.8, 21, 21, 21, 20.8],
    [24, 24.2, 24.3, 24.4, 24.3, 24.5, 24.5, 24.5, 24.6, 24.5, 24.7, 24.8],
    [25, 25, 25.2, 25.4, 25.5, 25.5, 25.7, 25.8, 26, 26, 26.2, 26.3],
    [26, 26.2, 26.3, 26.5, 26.6, 26.7, 26.8, 26.9, 27, 27.1, 27.2, 27.3],
    [27.5, 27.6, 27.7, 27.8, 27.9, 28, 28.1, 28.2, 28.3, 28.4, 28.5, 28.5],
    [28.5, 24, 24, 24.2, 24.3, 24.5, 24.6, 24.8, 25, 25, 25.2, 25.3],
    [27, 26.5, 26.6, 26.7, 26.8, 27, 27.1, 27.2, 27.3, 27.4, 27.5],
]
band_lopez_lo = [
    [-2.5, -2.8, -2.7, -2.6, -2.5, -2.5, -2.5, -2.4, -2.3, -2.2, -2.2, -1.8],
    [-1.2, -1.5, -1.4, -1.2, -1.0, -0.8, -0.6, -0.4, -0.2, 0, 0.2, 0.5],
    [2.5, 2.7, 2.8, 3, 3, 3.2, 3.3, 3.4, 3.5, 3.6, 3.6, 3.8],
    [3.8, 3.9, 4, 4, 4.1, 4.2, 4.3, 4.3, 4.4, 4.5, 4.5, 4.6],
    [4.5, 4.6, 4.7, 4.8, 4.9, 5, 5.1, 5.2, 5.3, 5.4, 5.5, 5.6],
    [5.6, 5.8, 5.9, 6, 6.1, 6.2, 6.4, 6.5, 6.6, 6.8, 6.9, 7],
    [7, 3, 3, 3.2, 3.3, 3.5, 3.6, 3.8, 4, 4.1, 4.3, 4.5],
    [5.5, 5.5, 5.7, 5.8, 6, 6.2, 6.4, 6.6, 6.8, 7, 7.2],
]
band_gallegos_hi = [
    [3.6, 3.9, 4, 4.1, 4.2, 4.3, 4.5, 4.7, 5, 5.3, 5.6, 6.1],
    [6.2, 6.5, 6.8, 7.2, 7.7, 8.5, 9, 9.8, 10.3, 10.8, 11.3, 11.8],
    [15.5, 15.8, 16, 16.3, 16.5, 16.7, 16.8, 17, 17, 17.2, 17.3, 17.5],
    [17.5, 17.6, 17.7, 17.8, 17.9, 18, 18, 18.1, 18.2, 18.3, 18.4, 18.5],
    [18.5, 18.6, 18.7, 18.8, 18.9, 19, 19, 19.1, 19.2, 19.3, 19.4, 19.5],
    [19.5, 19.6, 19.7, 19.9, 20, 20.1, 20.2, 20.3, 20.4, 20.5, 20.6, 20.8],
    [20.8, 16, 16.2, 16.4, 16.6, 16.8, 17, 17.2, 17.4, 17.6, 17.8, 18],
    [19.5, 19.5, 19.6, 19.7, 19.8, 19.9, 20, 20.1, 20.2, 20.3, 20.5],
]
band_gallegos_lo = [
    [-0.7, -0.8, -0.8, -0.9, -0.9, -0.9, -0.9, -0.9, -0.9, -0.8, -0.8, -0.7],
    [-0.6, -0.6, -0.5, -0.4, -0.3, -0.2, 0, 0.2, 0.4, 0.6, 0.8, 1.0],
    [1.5, 1.6, 1.8, 2, 2.1, 2.3, 2.4, 2.5, 2.6, 2.7, 2.8, 3],
    [3, 3.1, 3.2, 3.3, 3.4, 3.5, 3.5, 3.6, 3.7, 3.8, 3.9, 4],
    [4, 4.1, 4.2, 4.3, 4.4, 4.5, 4.5, 4.6, 4.7, 4.8, 4.9, 5],
    [5, 5.1, 5.3, 5.4, 5.5, 5.7, 5.8, 5.9, 6, 6.2, 6.3, 6.5],
    [6.5, 3.5, 3.6, 3.8, 4, 4.2, 4.4, 4.6, 4.8, 5, 5.2, 5.4],
    [6, 6.2, 6.3, 6.5, 6.6, 6.8, 7, 7.1, 7.2, 7.4, 7.5],
]


# ---------------- helpers ----------------
def flat(name, rows):
    lens = [len(r) for r in rows]
    if len(rows) != 8 or any(n != 12 for n in lens[:7]) or lens[7] != 11:
        raise ValueError(f"bad lengths for {name}: {lens}")
    return np.array([v for r in rows for v in r], dtype=float)


time_s = np.array([s + o for s in ROUND_STARTS[:-1] for o in SAMPLE_OFFSETS]
                  + [ROUND_STARTS[-1] + o for o in LAST_ROUND_OFFSETS], dtype=float)

lopez_series = [
    (lopez_o45, lopez_o45_lo), (lopez_o75, lopez_o75_lo), (lopez_o105, lopez_o105_lo),
    (lopez_o135, lopez_o135_lo), (lopez_o165, lopez_o165_lo), (lopez_o195, lopez_o195_lo),
    (lopez_o225, lopez_o225_lo), (lopez_o255, lopez_o255_lo), (lopez_o285, lopez_o285_lo),
]
gal_series = [
    (gal_o45, gal_o45_lo), (gal_o75, gal_o75_lo), (gal_o105, gal_o105_lo),
    (gal_o135, gal_o135_lo), (gal_o165, gal_o165_lo), (gal_o195, gal_o195_lo),
    (gal_o225, gal_o225_lo), (gal_o255, gal_o255_lo), (gal_o285, gal_o285_lo),
]

ROUND_LINE_KW = dict(color="#555555", linestyle=":", linewidth=0.8, alpha=0.9, zorder=1)


def add_rounds(ax, ytext=0.968):
    tr = blended_transform_factory(ax.transData, ax.transAxes)
    for k, s in enumerate(ROUND_STARTS):
        ax.axvline(s, **ROUND_LINE_KW)
        ax.text(s + 2, ytext, f"R{k + 1}", transform=tr, ha="left", va="top",
                fontsize=7.5, color="#666666", zorder=2)


def draw_prob_panel(ax, series, title):
    for i, (hi_rows, lo_rows) in enumerate(series):
        hi = flat(f"{title}-{i}", hi_rows) / 100.0
        lo = flat(f"{title}-{i}-lo", lo_rows) / 100.0
        c = LINE_COLORS[i]
        ax.fill_between(time_s, lo, hi, color=c, alpha=0.1, linewidth=0, zorder=2)
        ax.plot(time_s, lo, color=c, linestyle=":", linewidth=1.0, alpha=0.7, zorder=3)
        ax.plot(time_s, hi, color=c, linewidth=1.4, alpha=0.85, zorder=4,
                label=THRESHOLD_LABELS[i])
    add_rounds(ax)
    ax.set_ylim(0, 1.15)
    ax.set_yticks(np.round(np.arange(0, 1.151, 0.05), 2))
    ax.yaxis.set_major_formatter(matplotlib.ticker.FormatStrFormatter("%.2f"))
    ax.tick_params(axis="y", labelsize=7)
    ax.set_ylabel("Prob", fontsize=7)
    ax.grid(axis="y", color="#b0b0b0", alpha=0.3, linewidth=0.8)
    ax.set_title(title, fontsize=11)
    ax.legend(loc="upper right", ncol=4, fontsize=6, framealpha=0.8)


# ---------------- figure ----------------
fig = plt.figure(figsize=(14, 10), dpi=150)
gs = fig.add_gridspec(3, 1, height_ratios=[3, 3, 2], hspace=0.145,
                      left=0.045, right=0.989, top=0.966, bottom=0.0553)
ax1 = fig.add_subplot(gs[0])
ax2 = fig.add_subplot(gs[1], sharex=ax1)
ax3 = fig.add_subplot(gs[2], sharex=ax1)

draw_prob_panel(ax1, lopez_series,
                f"{FIGHTER_A} \u2014 Total Strikes Landed R10 Over Full Fight (Event 16181)")
draw_prob_panel(ax2, gal_series,
                f"{FIGHTER_B} \u2014 Total Strikes Landed R10 Over Full Fight (Event 16181)")

tl = flat("truth_lopez", truth_lopez)
tg = flat("truth_gallegos", truth_gallegos)
pl = flat("pred_lopez", pred_lopez)
pg = flat("pred_gallegos", pred_gallegos)
ax3.fill_between(time_s, flat("bl_lo", band_lopez_lo), flat("bl_hi", band_lopez_hi),
                 color="red", alpha=0.15, linewidth=0, zorder=2)
ax3.fill_between(time_s, flat("bg_lo", band_gallegos_lo), flat("bg_hi", band_gallegos_hi),
                 color="blue", alpha=0.15, linewidth=0, zorder=2)
ax3.plot(time_s, tl, color="red", linewidth=1.7, alpha=0.75, zorder=4,
         label=f"Truth {FIGHTER_A}: {int(tl[-1])}")
ax3.plot(time_s, tg, color="blue", linewidth=1.7, alpha=0.75, zorder=4,
         label=f"Truth {FIGHTER_B}: {int(tg[-1])}")
ax3.plot(time_s, pl, color="red", linestyle=":", linewidth=2.0, alpha=0.5, zorder=3,
         label=f"Predicted {FIGHTER_A}: {pl[0]:.1f}")
ax3.plot(time_s, pg, color="blue", linestyle=":", linewidth=2.0, alpha=0.5, zorder=3,
         label=f"Predicted {FIGHTER_B}: {pg[0]:.1f}")
add_rounds(ax3, ytext=0.975)
ax3.set_ylim(-4.4, 34.8)
ax3.set_yticks([0, 5, 10, 15, 20, 25, 30])
ax3.grid(axis="y", color="#b0b0b0", alpha=0.3, linewidth=0.8)
ax3.tick_params(labelsize=7.5)
ax3.set_ylabel("Count", fontsize=8)
ax3.set_xlabel("Fight time (seconds)", fontsize=10)
ax3.legend(loc="upper left", fontsize=7, framealpha=0.8)

ax1.set_xlim(-71.25, 1496.25)
plt.setp(ax1.get_xticklabels(), visible=False)
plt.setp(ax2.get_xticklabels(), visible=False)

fig.savefig("out.png", dpi=150)
